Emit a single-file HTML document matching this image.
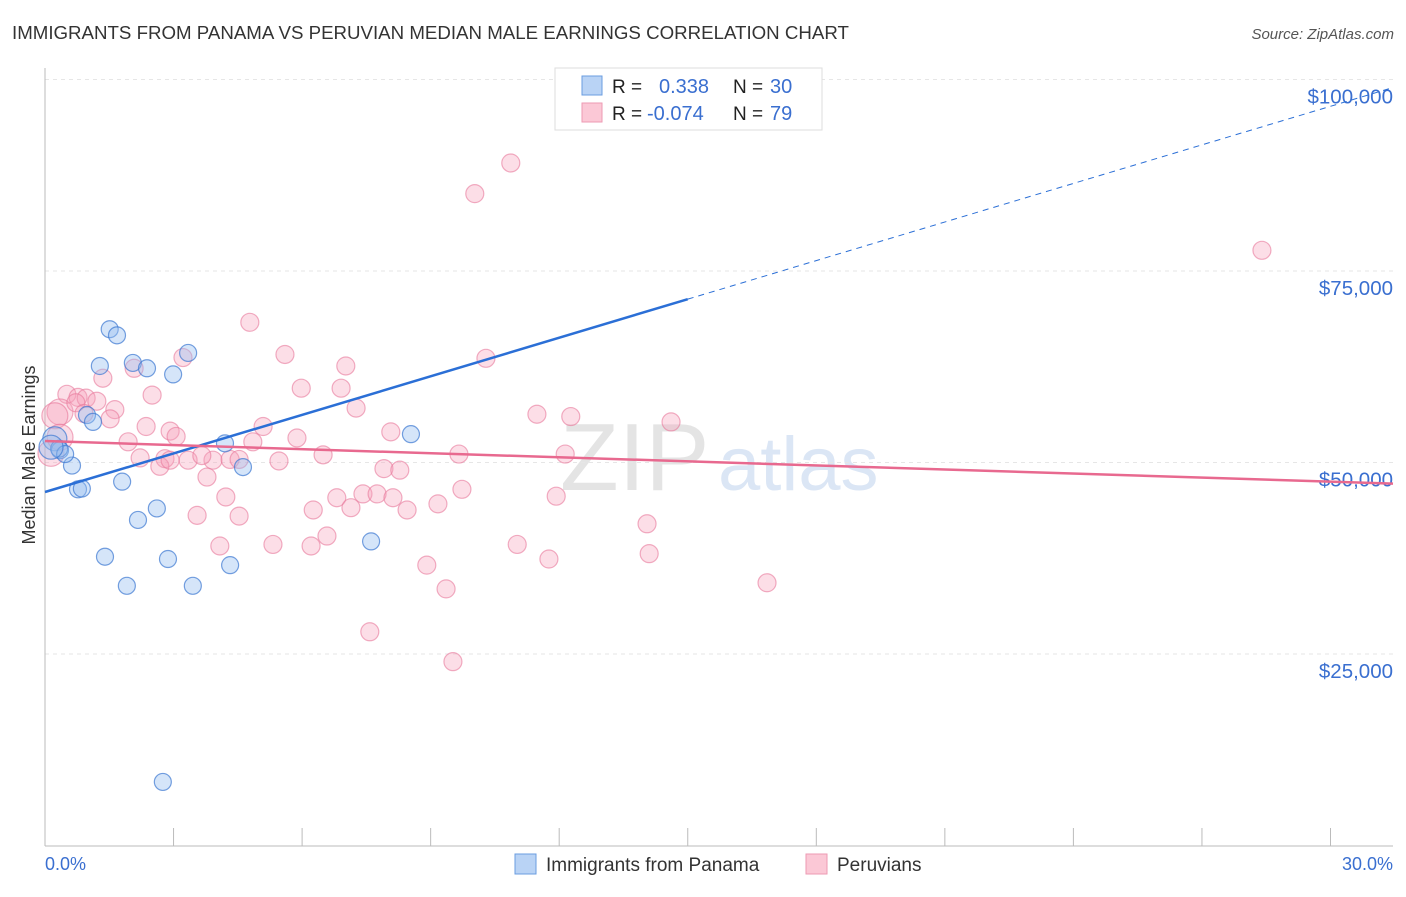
<!DOCTYPE html>
<html><head><meta charset="utf-8"><style>
body{margin:0;background:#fff;font-family:"Liberation Sans",sans-serif}
svg text{font-family:"Liberation Sans",sans-serif}
</style></head><body>
<svg width="1406" height="892">
<text x="12" y="39" font-size="18.7" fill="#333">IMMIGRANTS FROM PANAMA VS PERUVIAN MEDIAN MALE EARNINGS CORRELATION CHART</text>
<text x="1394" y="39" font-size="15" fill="#555" text-anchor="end" font-style="italic">Source: ZipAtlas.com</text>
<text x="560" y="490" font-size="96" fill="#e4e4e4" font-family="Liberation Serif">ZIP</text>
<text x="718" y="490" font-size="76" fill="#dbe6f5">atlas</text>
<g id="grid"></g>
<line x1="45" y1="68" x2="45" y2="846" stroke="#bbb"/>
<line x1="45" y1="846" x2="1393" y2="846" stroke="#bbb"/>
<text transform="translate(35,455) rotate(-90)" font-size="18" fill="#333" text-anchor="middle">Median Male Earnings</text>
<text x="45" y="870" font-size="18" fill="#3a6fd0">0.0%</text>
<text x="1393" y="870" font-size="18" fill="#3a6fd0" text-anchor="end">30.0%</text>
<g id="pts"></g>
<g id="lines"></g>
<g>
<rect x="555" y="68" width="267" height="62" fill="#fff" stroke="#ddd"/>
<rect x="582" y="76" width="20" height="19" fill="#b9d3f5" stroke="#6a9de0"/>
<rect x="582" y="103" width="20" height="19" fill="#fbc8d6" stroke="#ee9ab3"/>
<text x="612" y="93" font-size="19" fill="#222">R =</text>
<text x="659" y="93" font-size="20" fill="#3a6fd0">0.338</text>
<text x="733" y="93" font-size="19" fill="#222">N =</text>
<text x="770" y="93" font-size="20" fill="#3a6fd0">30</text>
<text x="612" y="120" font-size="19" fill="#222">R =</text>
<text x="647" y="120" font-size="20" fill="#3a6fd0">-0.074</text>
<text x="733" y="120" font-size="19" fill="#222">N =</text>
<text x="770" y="120" font-size="20" fill="#3a6fd0">79</text>
</g>
<g>
<rect x="515" y="854" width="21" height="20" fill="#b9d3f5" stroke="#6a9de0"/>
<text x="546" y="871" font-size="19" fill="#333">Immigrants from Panama</text>
<rect x="806" y="854" width="21" height="20" fill="#fbc8d6" stroke="#ee9ab3"/>
<text x="837" y="871" font-size="19" fill="#333">Peruvians</text>
</g>
</svg>
<script>
const yTicks=[25000,50000,75000,100000];
const yTickLabels=["$25,000","$50,000","$75,000","$100,000"];
const xTicks=[0,3,6,9,12,15,18,21,24,27,30];
const panamaX=[1.51,1.68,1.28,2.05,2.38,2.99,3.34,0.98,1.12,0.23,0.35,0.63,0.77,0.86,1.80,2.61,2.17,1.40,2.87,1.91,3.45,4.32,4.20,4.62,8.54,7.61,2.75,0.33,0.47,0.14];
const panamaY=[67400,66600,62600,63000,62300,61500,64300,56200,55300,53100,51600,49600,46500,46600,47500,44000,42500,37700,37400,33900,33900,36600,52500,49400,53700,39700,8300,51800,51100,52000];
const peruX=[10.87,10.03,28.40,4.78,5.60,3.22,10.29,7.02,2.08,1.35,5.98,6.91,2.50,0.51,0.77,0.96,1.21,1.63,7.26,11.48,12.27,14.61,0.35,1.52,2.36,2.92,5.09,8.07,3.06,5.88,1.94,4.85,9.66,12.14,2.22,6.49,3.34,3.92,4.32,2.80,3.66,5.46,7.91,8.28,3.78,9.73,11.93,6.81,7.42,7.75,8.12,4.22,9.17,6.26,7.14,8.45,3.55,4.53,11.02,11.76,5.32,4.08,6.21,6.58,14.05,14.10,8.91,9.36,16.85,7.58,9.52,0.14,0.23,0.72,2.68,0.35,2.92,0.91,4.53];
const peruY=[89100,85100,77700,68300,64100,63700,63600,62600,62300,61000,59700,59700,58800,58900,58500,58400,58000,56900,57100,56300,56000,55300,56600,55700,54700,54100,54700,54000,53400,53200,52700,52700,51100,51100,50600,51000,50300,50300,50400,50500,50900,50200,49200,49000,48100,46500,45600,45400,45900,45900,45400,45500,44600,43800,44100,43800,43100,43000,39300,37400,39300,39100,39100,40400,42000,38100,36600,33500,34300,27900,24000,51200,56100,57800,49500,53300,50300,56400,50400];
const blueFit=[0,46150,30,96500];
const pinkFit=[0,52800,30,47500];
const NS='http://www.w3.org/2000/svg';
const X=p=>45+p*42.85, Y=v=>845.5-v*191.5/25000;
function mk(t,a,parent){const e=document.createElementNS(NS,t);for(const k in a)e.setAttribute(k,a[k]);document.getElementById(parent).appendChild(e);return e;}
yTicks.forEach((v,i)=>{
 const l=mk('line',{x1:45,x2:1393,y1:Y(v),y2:Y(v),stroke:'#e6e6e6','stroke-dasharray':'4,4'},'grid');
 
 
 const t=mk('text',{x:1393,y:Y(v)+24,'font-size':20.5,fill:'#3a6fd0','text-anchor':'end'},'grid');
 t.textContent=yTickLabels[i];
 
 
});
xTicks.forEach(p=>{
 const l=mk('line',{x1:X(p),x2:X(p),y1:828,y2:846,stroke:'#bbb'},'grid');
 
 
});
peruX.forEach((x,i)=>{
 const r=(x<0.5)?13:9;
 const c=mk('circle',{cx:X(x),cy:Y(peruY[i]),r:r,fill:'rgba(247,160,185,0.35)',stroke:'rgba(232,120,155,0.6)','stroke-width':1.2},'pts');
 
 
});
panamaX.forEach((x,i)=>{
 const r=(x<0.3)?12:8.5;
 const c=mk('circle',{cx:X(x),cy:Y(panamaY[i]),r:r,fill:'rgba(150,190,240,0.4)',stroke:'rgba(60,120,210,0.7)','stroke-width':1.2},'pts');
 
 
});
const by=p=>blueFit[1]+(blueFit[3]-blueFit[1])*(p-blueFit[0])/(blueFit[2]-blueFit[0]);
let l=mk('line',{x1:X(0),y1:Y(by(0)),x2:X(15),y2:Y(by(15)),stroke:'#2b6fd6','stroke-width':2.5},'lines');


l=mk('line',{x1:X(15),y1:Y(by(15)),x2:1393,y2:Y(by(31.46)),stroke:'#2b6fd6','stroke-width':1,'stroke-dasharray':'6,5'},'lines');


const py=p=>pinkFit[1]+(pinkFit[3]-pinkFit[1])*(p-pinkFit[0])/(pinkFit[2]-pinkFit[0]);
l=mk('line',{x1:X(0),y1:Y(py(0)),x2:1393,y2:Y(py(31.46)),stroke:'#e8698f','stroke-width':2.5},'lines');


</script>
</body></html>
